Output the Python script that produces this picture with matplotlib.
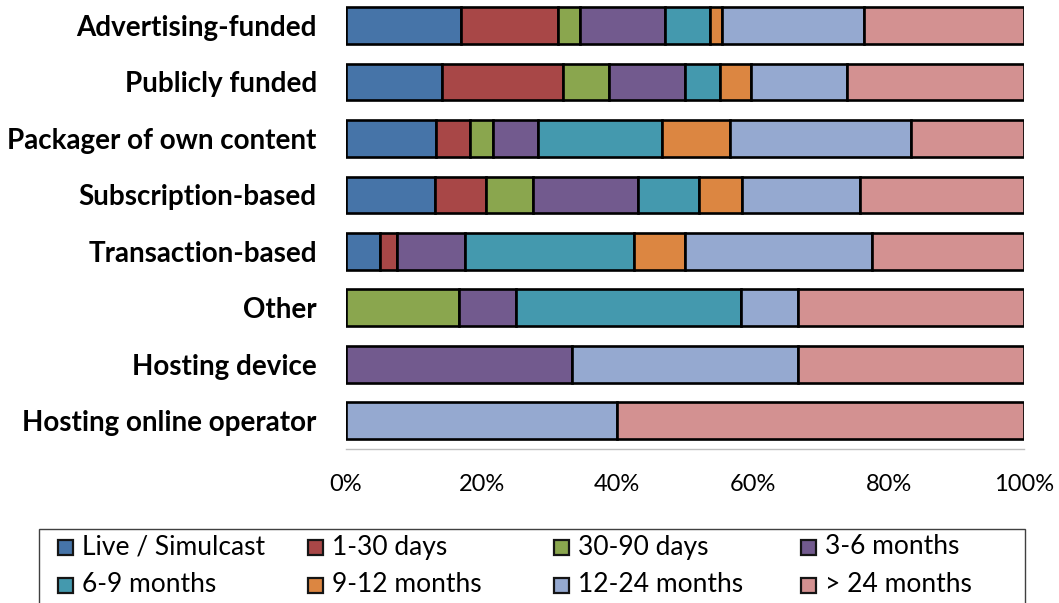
import matplotlib
matplotlib.use("Agg")
import matplotlib.pyplot as plt
import numpy as np
from matplotlib.patches import Rectangle

categories = ["Advertising-funded", "Publicly funded", "Packager of own content",
              "Subscription-based", "Transaction-based", "Other",
              "Hosting device", "Hosting online operator"]
series_names = ["Live / Simulcast", "1-30 days", "30-90 days", "3-6 months",
                "6-9 months", "9-12 months", "12-24 months", "> 24 months"]
live = [16.9, 14.1, 13.3, 13.1, 5.0, 0.0, 0.0, 0.0]
d1_30 = [14.4, 17.9, 5.0, 7.5, 2.5, 0.0, 0.0, 0.0]
d30_90 = [3.2, 6.7, 3.3, 6.9, 0.0, 16.7, 0.0, 0.0]
m3_6 = [12.5, 11.3, 6.7, 15.5, 10.0, 8.3, 33.3, 0.0]
m6_9 = [6.6, 5.1, 18.3, 9.0, 25.0, 33.3, 0.0, 0.0]
m9_12 = [1.9, 4.6, 10.0, 6.4, 7.5, 0.0, 0.0, 0.0]
m12_24 = [20.9, 14.1, 26.7, 17.4, 27.5, 8.3, 33.3, 40.0]
m24p = [23.6, 26.2, 16.7, 24.2, 22.5, 33.3, 33.3, 60.0]
series = [live, d1_30, d30_90, m3_6, m6_9, m9_12, m12_24, m24p]
colors = ["#4674A8", "#A84747", "#8AA64E", "#725A8E",
          "#4499AE", "#DC8641", "#95A9D0", "#D39191"]
xticks = [0, 20, 40, 60, 80, 100]
xticklabels = ["0%", "20%", "40%", "60%", "80%", "100%"]

W, H = 1059, 603
fig = plt.figure(figsize=(W / 100, H / 100), dpi=100)
fontfam = ["Lato", "DejaVu Sans"]

ax_left, ax_right = 346 / W, 1024.3 / W
ax_bottom = 1 - 449 / H
ax_top = 1 + 2.75 / H
ax = fig.add_axes([ax_left, ax_bottom, ax_right - ax_left, ax_top - ax_bottom])

y = np.arange(len(categories))
left = np.zeros(len(categories))
for vals, c in zip(series, colors):
    vals = np.array(vals, dtype=float)
    ax.barh(y, vals, left=left, height=0.65, color=c, edgecolor="black",
            linewidth=1.9)
    left += vals

ax.set_xlim(0, 100)
ax.set_ylim(len(categories) - 0.5, -0.5)
ax.set_yticks(y)
ax.set_yticklabels(categories, fontsize=20, fontweight="bold", family=fontfam)
ax.set_xticks(xticks)
ax.set_xticklabels(xticklabels, fontsize=17, family=fontfam)
ax.tick_params(axis="y", length=0, pad=21)
ax.tick_params(axis="x", length=0, pad=18)
for s in ["top", "right", "left"]:
    ax.spines[s].set_visible(False)
ax.spines["bottom"].set_color("#BFBFBF")
ax.spines["bottom"].set_linewidth(1.0)

# legend box
def fx(px):
    return px / W

def fy(py):
    return 1 - py / H

fig.patches.append(Rectangle((fx(39), fy(615)), fx(1025) - fx(39), fy(529) - fy(615),
                             transform=fig.transFigure, facecolor="white",
                             edgecolor="#404040", linewidth=1.0))
col_x = [65, 315, 561, 808]
row_y = [547, 585]
msize = 15
for i, (name, c) in enumerate(zip(series_names, colors)):
    cx = col_x[i % 4]
    cy = row_y[i // 4]
    fig.patches.append(Rectangle((fx(cx - msize / 2), fy(cy + msize / 2)), fx(msize), msize / H,
                                 transform=fig.transFigure, facecolor=c,
                                 edgecolor="#151515", linewidth=1.6))
    fig.text(fx(cx + 17), fy(cy), name, fontsize=19, family=fontfam,
             ha="left", va="center")

fig.savefig("out.png", dpi=100)
